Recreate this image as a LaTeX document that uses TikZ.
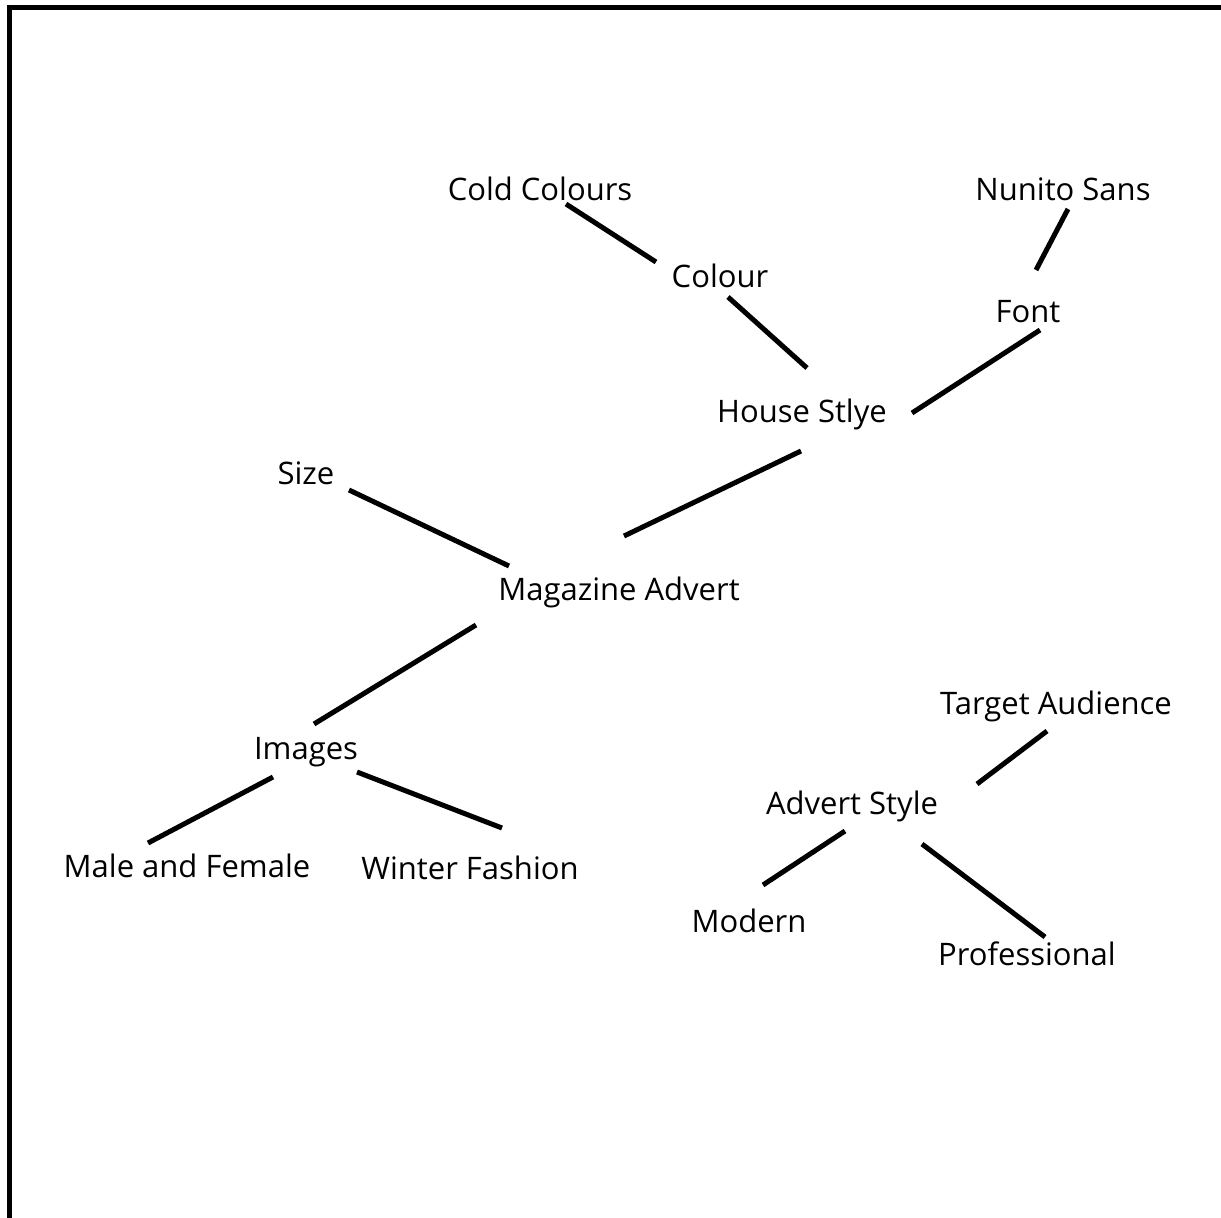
\documentclass[tikz,border=0pt]{standalone}
\usepackage{fontspec}
\setmainfont{Open Sans}
\usepackage{tikz}
\usetikzlibrary{calc}
\tikzstyle{topic} = [inner sep=0pt, font=\fontsize{31}{37}\selectfont]
\tikzstyle{link} = [draw, line width=5pt]
\tikzstyle{frame} = [draw, line width=5pt]

\begin{document}
\begin{tikzpicture}[x=1pt, y=-1pt]
			\useasboundingbox (0,0) rectangle (1221,1218);
			\path [frame] (9.5,1230) -- (9.5,7.5) -- (1230,7.5);
			% Place nodes
			\node [topic] (coldColours) at (540,189) {Cold Colours};
			\node [topic] (nunitoSans) at (1063,189) {Nunito Sans};
			\node [topic] (colour) at (720,276) {Colour};
			\node [topic] (font) at (1028,312) {Font};
			\node [topic] (houseStyle) at (802,414) {House Stlye};
			\node [topic] (size) at (306,473) {Size};
			\node [topic] (magazineAdvert) at (619,592) {Magazine Advert};
			\node [topic] (targetAudience) at (1056,706) {Target Audience};
			\node [topic] (images) at (306,752) {Images};
			\node [topic] (advertStyle) at (852,806) {Advert Style};
			\node [topic] (maleFemale) at (187,866) {Male and Female};
			\node [topic] (winterFashion) at (470,868) {Winter Fashion};
			\node [topic] (modern) at (749,921) {Modern};
			\node [topic] (professional) at (1027,954) {Professional};
			%
			\path [link] ($(coldColours)+(26,15)$) -- ($(colour)+(-64,-14)$);
			\path [link] ($(nunitoSans)+(5,20)$) -- ($(font)+(8,-42)$);
			\path [link] ($(colour)+(8,21)$) -- ($(houseStyle)+(5,-46)$);
			\path [link] ($(font)+(12,18)$) -- ($(houseStyle)+(110,-1)$);
			\path [link] ($(houseStyle)+(-1,37)$) -- ($(magazineAdvert)+(5,-56)$);
			\path [link] ($(size)+(43,17)$) -- ($(magazineAdvert)+(-110,-26)$);
			\path [link] ($(magazineAdvert)+(-143,33)$) -- ($(images)+(8,-28)$);
			\path [link] ($(images)+(-33,25)$) -- ($(maleFemale)+(-39,-23)$);
			\path [link] ($(images)+(51,20)$) -- ($(winterFashion)+(32,-40)$);
			\path [link] ($(targetAudience)+(-9,25)$) -- ($(advertStyle)+(125,-22)$);
			\path [link] ($(advertStyle)+(-7,25)$) -- ($(modern)+(14,-36)$);
			\path [link] ($(advertStyle)+(70,38)$) -- ($(professional)+(18,-17)$);
	\end{tikzpicture}
\end{document}
